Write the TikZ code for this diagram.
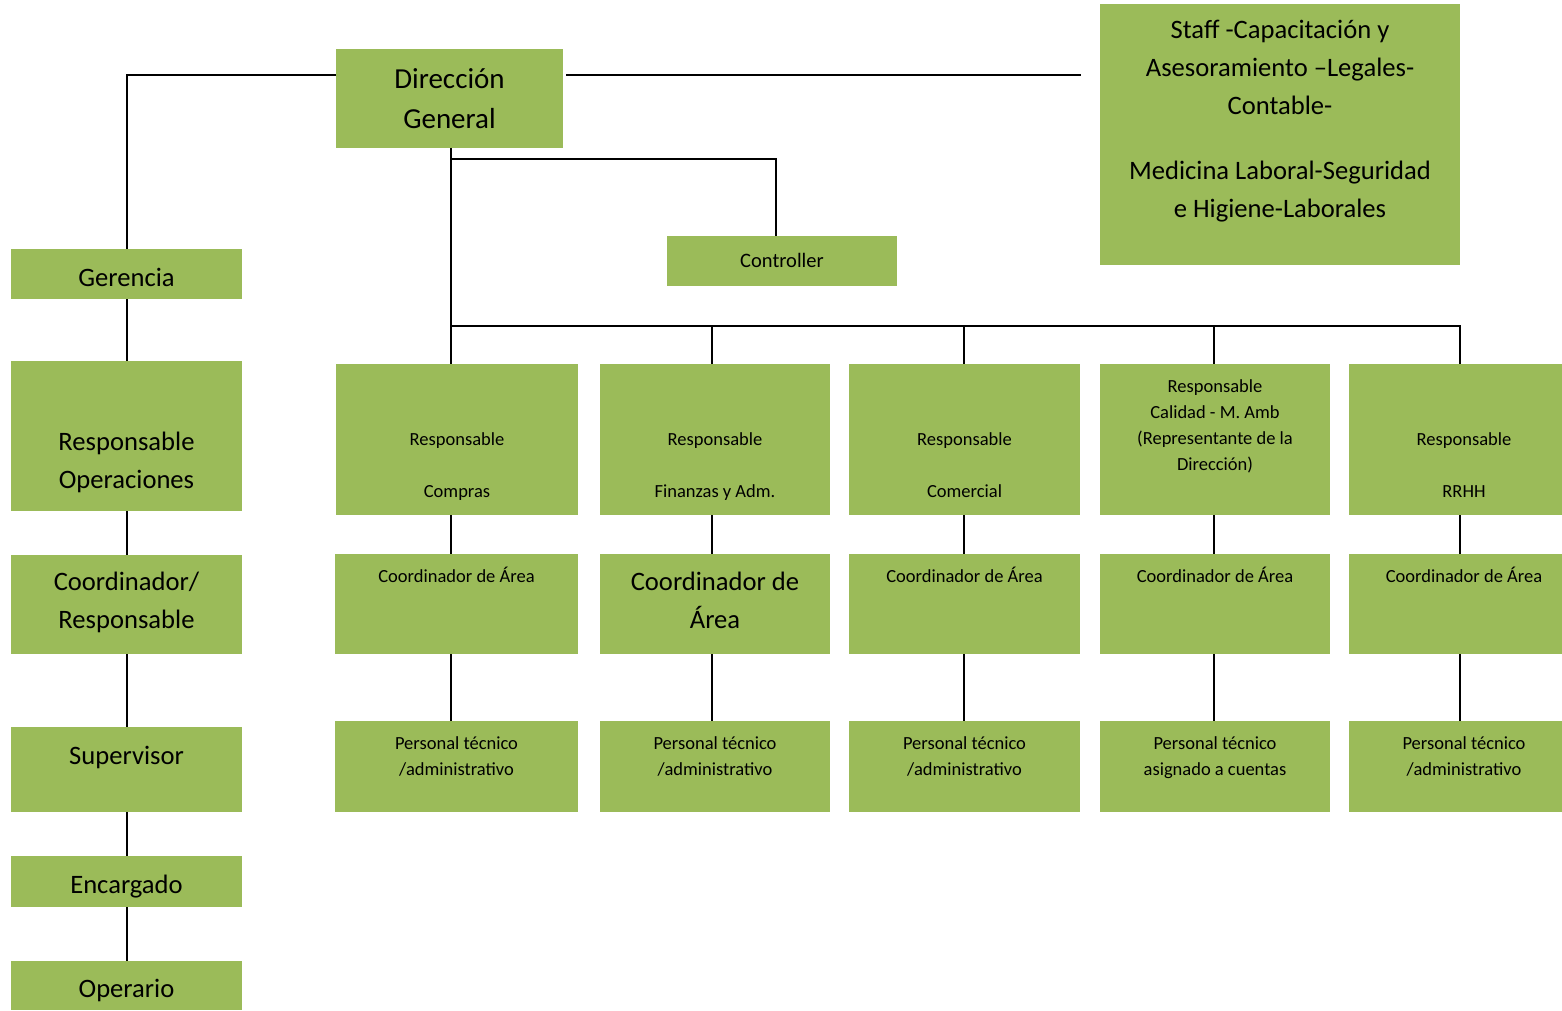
\documentclass[tikz,border=0pt]{standalone}
\usepackage{fontspec}
\setmainfont{Carlito}
\usetikzlibrary{calc}
\definecolor{boxgreen}{HTML}{9BBB59}
\tikzset{
  orgbox/.style={fill=boxgreen, draw=none, inner sep=0pt, outer sep=0pt},
  conn/.style={line width=2pt, black},
  txtbase/.style={align=center, anchor=base, inner sep=0pt, text=black},
  dgtxt/.style={txtbase, font=\fontsize{29}{40.5}\selectfont},
  bigtxt/.style={txtbase, font=\fontsize{26.6}{37.5}\selectfont},
  ctltxt/.style={txtbase, font=\fontsize{20.5}{25}\selectfont},
  smalltxt/.style={txtbase, font=\fontsize{18.5}{26}\selectfont},
}
\newcommand\obox[5]{\node[orgbox, minimum width={(#4)-(#2)}, minimum height={(#5)-(#3)}] (#1) at ({((#2)+(#4))/2},{((#3)+(#5))/2}) {};}
\begin{document}
\begin{tikzpicture}[x=1pt,y=-1pt]
\useasboundingbox (0,0) rectangle (1562,1011);
% boxes
\obox{dg}{336}{49}{563}{148}
\obox{staff}{1100}{4}{1460}{265}
\obox{ger}{11}{249}{242}{299}
\obox{ro}{11}{361}{242}{511}
\obox{co}{11}{555}{242}{654}
\obox{sup}{11}{727}{242}{812}
\obox{enc}{11}{856}{242}{907}
\obox{op}{11}{961}{242}{1010}
\obox{ctl}{667}{236}{897}{286}
\obox{r1a}{336}{364}{578}{515}
\obox{r1b}{600}{364}{830}{515}
\obox{r1c}{849}{364}{1080}{515}
\obox{r1d}{1100}{364}{1330}{515}
\obox{r1e}{1349}{364}{1579}{515}
\obox{r2a}{335}{554}{578}{654}
\obox{r2b}{600}{554}{830}{654}
\obox{r2c}{849}{554}{1080}{654}
\obox{r2d}{1100}{554}{1330}{654}
\obox{r2e}{1349}{554}{1579}{654}
\obox{r3a}{335}{721}{578}{812}
\obox{r3b}{600}{721}{830}{812}
\obox{r3c}{849}{721}{1080}{812}
\obox{r3d}{1100}{721}{1330}{812}
\obox{r3e}{1349}{721}{1579}{812}
% texts (anchor = baseline of last line)
\node[dgtxt] (dg-t) at (449.5,129) {Dirección\\General};
\node[bigtxt] (staff-t) at (1280,217) {Staff -Capacitación y\\Asesoramiento –Legales-\\Contable-\\[28pt]Medicina Laboral-Seguridad\\e Higiene-Laborales};
\node[bigtxt] (ger-t) at (126.5,286) {Gerencia};
\node[bigtxt] (ro-t) at (126.5,488) {Responsable\\Operaciones};
\node[bigtxt] (co-t) at (126.5,628) {Coordinador/\\Responsable};
\node[bigtxt] (sup-t) at (126.5,764) {Supervisor};
\node[bigtxt] (enc-t) at (126.5,893) {Encargado};
\node[bigtxt] (op-t) at (126.5,997) {Operario};
\node[ctltxt] (ctl-t) at (782,267) {Controller};
\node[smalltxt] (r1a-t) at (457,497) {Responsable\\[26pt]Compras};
\node[smalltxt] (r1b-t) at (715,497) {Responsable\\[26pt]Finanzas y Adm.};
\node[smalltxt] (r1c-t) at (964.5,497) {Responsable\\[26pt]Comercial};
\node[smalltxt] (r1d-t) at (1215,470) {Responsable\\Calidad - M. Amb\\(Representante de la\\Dirección)};
\node[smalltxt] (r1e-t) at (1464,497) {Responsable\\[26pt]RRHH};
\node[smalltxt] (r2a-t) at (456.5,582) {Coordinador de Área};
\node[bigtxt] (r2b-t) at (715,628) {Coordinador de\\Área};
\node[smalltxt] (r2c-t) at (964.5,582) {Coordinador de Área};
\node[smalltxt] (r2d-t) at (1215,582) {Coordinador de Área};
\node[smalltxt] (r2e-t) at (1464,582) {Coordinador de Área};
\node[smalltxt] (r3a-t) at (456.5,775) {Personal técnico\\/administrativo};
\node[smalltxt] (r3b-t) at (715,775) {Personal técnico\\/administrativo};
\node[smalltxt] (r3c-t) at (964.5,775) {Personal técnico\\/administrativo};
\node[smalltxt] (r3d-t) at (1215,775) {Personal técnico\\asignado a cuentas};
\node[smalltxt] (r3e-t) at (1464,775) {Personal técnico\\/administrativo};
% connectors
\coordinate (stf) at (1081,75);
\coordinate (tc) at (451,159);
\coordinate (b1) at (451,326);
\coordinate (b2) at (712,326);
\coordinate (b3) at (964,326);
\coordinate (b4) at (1214,326);
\coordinate (b5) at (1460,326);
\draw[conn] ([yshift=-26pt]dg.north west) -| (ger.north);
\draw[conn] ([yshift=-26pt,xshift=3pt]dg.north east) -- (stf);
\draw[conn] (ger.south) -- (ro.north);
\draw[conn] (ro.south) -- (co.north);
\draw[conn] (co.south) -- (sup.north);
\draw[conn] (sup.south) -- (enc.north);
\draw[conn] (enc.south) -- (op.north);
\draw[conn] (dg.south -| b1) -- (b1 |- r1a.north);
\draw[conn] (tc) -| ([xshift=-6pt]ctl.north);
\draw[conn] (b1) -- (b5) -- (b5 |- r1e.north);
\foreach \b/\n in {b2/r1b, b3/r1c, b4/r1d} \draw[conn] (\b) -- (\b |- \n.north);
\foreach \b/\i in {b1/a, b2/b, b3/c, b4/d, b5/e} {
  \draw[conn] (\b |- r1\i.south) -- (\b |- r2\i.north);
  \draw[conn] (\b |- r2\i.south) -- (\b |- r3\i.north);
}
\end{tikzpicture}
\end{document}
